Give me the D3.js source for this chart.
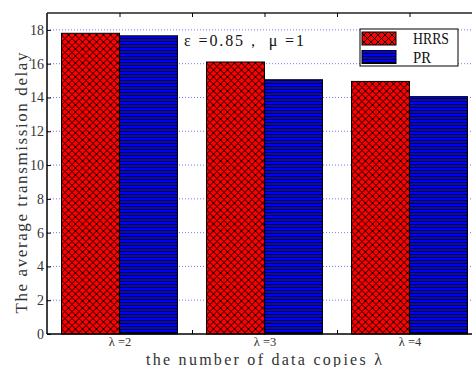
<!DOCTYPE html>
<html><head><meta charset="utf-8">
<script src="https://cdn.jsdelivr.net/npm/d3@7"></script>
<style>html,body{margin:0;padding:0;background:#fff;overflow:hidden}</style>
</head><body>
<svg id="c" width="472" height="367"></svg>
<script>
const categories = ["λ =2", "λ =3", "λ =4"];
const seriesNames = ["HRRS", "PR"];
const hrrs = [17.8, 16.1, 14.95];
const pr = [17.65, 15.05, 14.05];
const yTicks = [0, 2, 4, 6, 8, 10, 12, 14, 16, 18];
const xTickPos = [1, 1.5, 2, 2.5, 3];

const svg = d3.select("#c");
const L = 47, R = 482, T = 13, B = 334;
const serif = "'Liberation Serif','Times New Roman',serif";
const txt = "#333";

const defs = svg.append("defs");
const P = 7;
const ph = defs.append("pattern").attr("id", "hatchX").attr("patternUnits", "userSpaceOnUse")
  .attr("width", P).attr("height", P).attr("shape-rendering", "crispEdges");
ph.append("rect").attr("width", P).attr("height", P).attr("fill", "#ff0000");
const px = [];
for (let i = 0; i < P; i++) { px.push([i, i]); if (P - 1 - i !== i) px.push([P - 1 - i, i]); }
ph.selectAll("rect.px").data(px).join("rect").attr("class", "px")
  .attr("x", d => d[0]).attr("y", d => d[1]).attr("width", 1).attr("height", 1).attr("fill", "#000");
const pb = defs.append("pattern").attr("id", "hatchH").attr("patternUnits", "userSpaceOnUse")
  .attr("width", 6).attr("height", 3).attr("shape-rendering", "crispEdges");
pb.append("rect").attr("width", 6).attr("height", 3).attr("fill", "#0000ff");
pb.append("rect").attr("y", 2).attr("width", 6).attr("height", 1).attr("fill", "#000");
const fills = ["url(#hatchX)", "url(#hatchH)"];

const y = d3.scaleLinear().domain([0, 19]).range([B, T]);
const xLin = d3.scaleLinear().domain([0.5, 3.5]).range([L, R]);
const x0 = d3.scaleBand().domain(categories).range([L, R]).paddingInner(0.2).paddingOuter(0.1);
const x1 = d3.scaleBand().domain(seriesNames).range([0, x0.bandwidth()]);

// grid
svg.append("g").selectAll("line").data(yTicks.filter(d => d > 0)).join("line")
  .attr("x1", L).attr("x2", R).attr("y1", d => y(d)).attr("y2", d => y(d))
  .attr("stroke", "#7b7bf0").attr("stroke-width", 1).attr("stroke-dasharray", "1,2");

// bars
const data = categories.map((c, i) => ({ c, vals: [hrrs[i], pr[i]] }));
const g = svg.append("g").selectAll("g").data(data).join("g")
  .attr("transform", d => `translate(${x0(d.c)},0)`);
g.selectAll("rect").data(d => d.vals.map((v, j) => ({ s: seriesNames[j], v, j }))).join("rect")
  .attr("x", d => x1(d.s)).attr("width", x1.bandwidth())
  .attr("y", d => y(d.v)).attr("height", d => y(0) - y(d.v))
  .attr("fill", d => fills[d.j]).attr("stroke", "#000").attr("stroke-width", 1);

// axes
const yAxis = d3.axisLeft(y).tickValues(yTicks).tickSize(-4).tickPadding(3);
const ya = svg.append("g").attr("transform", `translate(${L},0)`).call(yAxis);
ya.select(".domain").attr("d", `M0,${B}V${T}`).attr("stroke", "#000").attr("stroke-width", 1.5);
ya.selectAll("text").attr("font-family", serif).attr("font-size", 14).attr("fill", txt);

const xAxis = d3.axisBottom(xLin).tickValues(xTickPos).tickSize(-4)
  .tickFormat(d => Number.isInteger(d) ? categories[d - 1] : "").tickPadding(3);
const xa = svg.append("g").attr("transform", `translate(0,${B})`).call(xAxis);
xa.select(".domain").attr("d", `M${L},0H${R}`).attr("stroke", "#000").attr("stroke-width", 1.5);
xa.selectAll("text").attr("font-family", serif).attr("font-size", 12.5).attr("fill", txt);

// top border with ticks
const xt = d3.axisTop(xLin).tickValues(xTickPos).tickSize(-4).tickFormat("");
const xta = svg.append("g").attr("transform", `translate(0,${T})`).call(xt);
xta.select(".domain").attr("d", `M${L},0H${R}`).attr("stroke", "#222").attr("stroke-width", 1.5);

// labels
svg.append("text").attr("x", 146).attr("y", 365).attr("font-family", serif).attr("font-size", 16)
  .attr("textLength", 236).attr("lengthAdjust", "spacing").attr("fill", txt)
  .text("the number of data copies  λ");
svg.append("text").attr("transform", "translate(27,183) rotate(-90)").attr("text-anchor", "middle")
  .attr("font-family", serif).attr("font-size", 17).attr("textLength", 261)
  .attr("lengthAdjust", "spacing").attr("fill", txt)
  .text("The average transmission delay");
svg.append("text").attr("x", 184).attr("y", 46).attr("font-family", serif).attr("font-size", 16)
  .attr("textLength", 120).attr("lengthAdjust", "spacing").attr("fill", "#111")
  .text("ε =0.85，  μ =1");

// legend
const lg = svg.append("g");
lg.append("rect").attr("x", 360).attr("y", 29).attr("width", 98).attr("height", 37)
  .attr("fill", "#fff").attr("stroke", "#000").attr("stroke-width", 1);
seriesNames.forEach((s, i) => {
  lg.append("rect").attr("x", 362).attr("y", 32 + i * 18.5).attr("width", 34).attr("height", 13)
    .attr("fill", fills[i]).attr("stroke", "#000").attr("stroke-width", 1);
  lg.append("text").attr("x", 413).attr("y", 44 + i * 19).attr("font-family", serif)
    .attr("font-size", 16).attr("textLength", i === 0 ? 36 : 18).attr("lengthAdjust", "spacingAndGlyphs")
    .attr("fill", "#111").text(s);
});
</script>
</body></html>
